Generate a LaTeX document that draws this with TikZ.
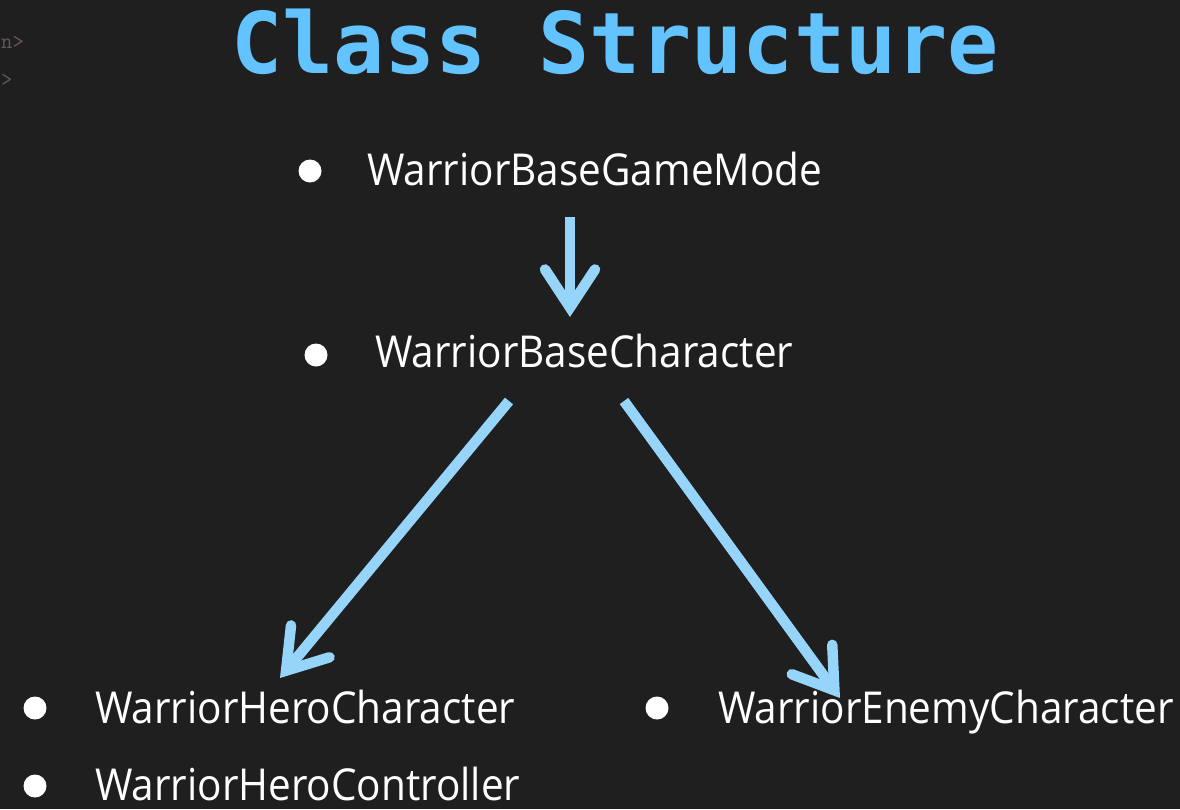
\documentclass[tikz,border=0pt]{standalone}
\usepackage{fontspec}
\setmainfont[FakeStretch=0.92]{Open Sans}
\newfontfamily\titlefont{DejaVu Sans Mono}
\usetikzlibrary{arrows.meta}
\definecolor{bgc}{RGB}{31,31,31}
\definecolor{titlec}{RGB}{98,195,255}
\definecolor{arrowc}{RGB}{150,212,250}
\definecolor{ghostc}{RGB}{100,88,84}
\tikzset{
  titletext/.style={text=titlec, font=\titlefont\bfseries\fontsize{85}{90}\selectfont, inner sep=0pt},
  itemtext/.style={text=white, font=\fontsize{44}{52}\selectfont, inner sep=0pt, anchor=base west},
  bulletdot/.style={circle, fill=white, draw=none, minimum size=23pt, inner sep=0pt},
  ghost/.style={text=ghostc, font=\ttfamily\fontsize{22}{26}\selectfont, inner sep=0pt, anchor=base west},
  conn/.style={draw=arrowc, line width=10.5pt,
    -{Straight Barb[length=38pt, width=50pt, line cap=round, line join=miter]}}
}
\begin{document}
\begin{tikzpicture}[x=1pt,y=-1pt]
\fill[bgc] (0,0) rectangle (1180,809);
\useasboundingbox (0,0) rectangle (1180,809);
\node[ghost] (g1) at (1,48) {n>};
\node[ghost] (g2) at (1,86) {>};
\node[titletext, anchor=base] (title) at (615,73) {Class Structure};

\node[bulletdot] (b1) at (310,171) {};
\node[itemtext] (gm) at (367,185) {WarriorBaseGameMode};
\node[bulletdot] (b2) at (316,355) {};
\node[itemtext] (bc) at (375,367) {WarriorBaseCharacter};
\node[bulletdot] (b3) at (35,708) {};
\node[itemtext] (hc) at (95,723) {WarriorHeroCharacter};
\node[bulletdot] (b4) at (657,708) {};
\node[itemtext] (ec) at (718,723) {WarriorEnemyCharacter};
\node[bulletdot] (b5) at (35,786) {};
\node[itemtext] (hctl) at (95,800) {WarriorHeroController};

\coordinate (a1s) at (570,217);
\coordinate (a1e) at (570,317);
\coordinate (a2s) at (509,401);
\coordinate (a2e) at (280,678);
\coordinate (a3s) at (624,401);
\coordinate (a3e) at (840,698);
\draw[conn] (a1s) -- (a1e);
\draw[conn] (a2s) -- (a2e);
\draw[conn] (a3s) -- (a3e);
\end{tikzpicture}
\end{document}
